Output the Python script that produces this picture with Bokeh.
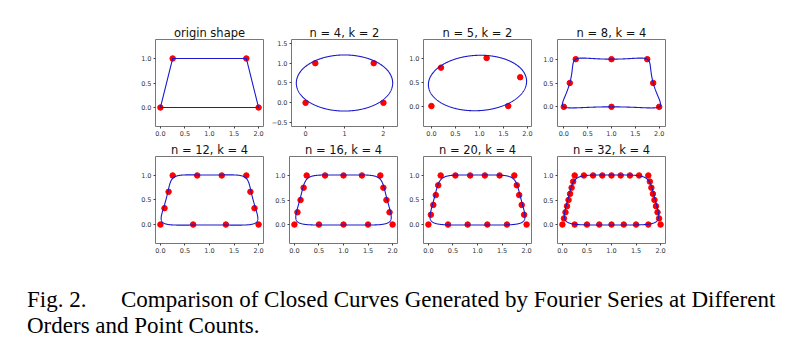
import numpy as np
from bokeh.plotting import figure
from bokeh.layouts import column, row
from bokeh.models import Div, FixedTicker, Range1d, Spacer
from bokeh.embed import file_html
from bokeh.resources import INLINE

# ---------------- data ----------------
titles = ["origin shape", "n = 4, k = 2", "n = 5, k = 2", "n = 8, k = 4",
          "n = 12, k = 4", "n = 16, k = 4", "n = 20, k = 4", "n = 32, k = 4"]
orders_k = [None, 2, 2, 4, 4, 4, 4, 4]

origin_x = [0.0, 0.25, 1.75, 2.0]
origin_y = [0.0, 1.0, 1.0, 0.0]

n4_x = [0.0, 0.25, 1.75, 2.0]
n4_y = [0.0, 1.0, 1.0, 0.0]

n5_x = [0.0, 0.2, 1.15, 1.85, 1.6]
n5_y = [0.0, 0.8, 1.0, 0.6, 0.0]

n8_x = [0.0, 0.125, 0.25, 1.0, 1.75, 1.875, 2.0, 1.0]
n8_y = [0.0, 0.5, 1.0, 1.0, 1.0, 0.5, 0.0, 0.0]

n12_x = [0.0, 0.0833, 0.1667, 0.25, 0.75, 1.25, 1.75, 1.8333, 1.9167, 2.0, 1.3333, 0.6667]
n12_y = [0.0, 0.3333, 0.6667, 1.0, 1.0, 1.0, 1.0, 0.6667, 0.3333, 0.0, 0.0, 0.0]

n16_x = [0.0, 0.0625, 0.125, 0.1875, 0.25, 0.625, 1.0, 1.375,
         1.75, 1.8125, 1.875, 1.9375, 2.0, 1.5, 1.0, 0.5]
n16_y = [0.0, 0.25, 0.5, 0.75, 1.0, 1.0, 1.0, 1.0,
         1.0, 0.75, 0.5, 0.25, 0.0, 0.0, 0.0, 0.0]

n20_x = [0.0, 0.05, 0.1, 0.15, 0.2, 0.25, 0.55, 0.85, 1.15, 1.45,
         1.75, 1.8, 1.85, 1.9, 1.95, 2.0, 1.6, 1.2, 0.8, 0.4]
n20_y = [0.0, 0.2, 0.4, 0.6, 0.8, 1.0, 1.0, 1.0, 1.0, 1.0,
         1.0, 0.8, 0.6, 0.4, 0.2, 0.0, 0.0, 0.0, 0.0, 0.0]

n32_x = [0.0, 0.03125, 0.0625, 0.09375, 0.125, 0.15625, 0.1875, 0.21875,
         0.25, 0.4375, 0.625, 0.8125, 1.0, 1.1875, 1.375, 1.5625,
         1.75, 1.78125, 1.8125, 1.84375, 1.875, 1.90625, 1.9375, 1.96875,
         2.0, 1.75, 1.5, 1.25, 1.0, 0.75, 0.5, 0.25]
n32_y = [0.0, 0.125, 0.25, 0.375, 0.5, 0.625, 0.75, 0.875,
         1.0, 1.0, 1.0, 1.0, 1.0, 1.0, 1.0, 1.0,
         1.0, 0.875, 0.75, 0.625, 0.5, 0.375, 0.25, 0.125,
         0.0, 0.0, 0.0, 0.0, 0.0, 0.0, 0.0, 0.0]

points_x = [origin_x, n4_x, n5_x, n8_x, n12_x, n16_x, n20_x, n32_x]
points_y = [origin_y, n4_y, n5_y, n8_y, n12_y, n16_y, n20_y, n32_y]

ticks_half = [0.0, 0.5, 1.0, 1.5, 2.0]
ticks_int = [0, 1, 2]
yticks_std = [0.0, 0.5, 1.0]
yticks_wide = [-0.5, 0.0, 0.5, 1.0, 1.5]
x_ticks = [ticks_half, ticks_int, ticks_half, ticks_half, ticks_half, ticks_half, ticks_half, ticks_half]
y_ticks = [yticks_std, yticks_wide, yticks_std, yticks_std, yticks_std, yticks_std, yticks_std, yticks_std]

caption_label = "Fig. 2."
caption_line1 = "Comparison of Closed Curves Generated by Fourier Series at Different"
caption_line2 = "Orders and Point Counts."

# ---------------- helpers ----------------
FW, FH = 108, 87


def fourier_curve(xs, ys, k, m=600):
    z = np.array(xs) + 1j * np.array(ys)
    n = len(z)
    c = np.fft.fft(z) / n
    f = np.round(np.fft.fftfreq(n) * n).astype(int)
    t = np.linspace(0, 2 * np.pi, m)
    out = np.zeros(m, dtype=complex)
    for ci, fi in zip(c, f):
        if abs(fi) <= k - 1:
            out += ci * np.exp(1j * fi * t)
    return out.real, out.imag


def fit_ranges(xs, ys):
    x0, x1 = min(xs), max(xs)
    y0, y1 = min(ys), max(ys)
    dx, dy = x1 - x0, y1 - y0
    x0, x1 = x0 - 0.05 * dx, x1 + 0.05 * dx
    y0, y1 = y0 - 0.05 * dy, y1 + 0.05 * dy
    sx = FW / (x1 - x0)
    sy = FH / (y1 - y0)
    if sx < sy:
        cy = (y0 + y1) / 2
        h = FH / sx
        y0, y1 = cy - h / 2, cy + h / 2
    else:
        cx = (x0 + x1) / 2
        w = FW / sy
        x0, x1 = cx - w / 2, cx + w / 2
    return (x0, x1), (y0, y1)


def fmt(v, ints):
    if ints:
        return str(int(v))
    s = "%.1f" % v
    return s.replace("-", "\u2212")


figs = []
for i in range(8):
    px, py = points_x[i], points_y[i]
    if orders_k[i] is None:
        cx = list(px) + [px[0]]
        cy = list(py) + [py[0]]
    else:
        cx, cy = fourier_curve(px, py, orders_k[i])
        cx, cy = list(cx), list(cy)
    xr, yr = fit_ranges(list(px) + cx, list(py) + cy)
    p = figure(width=134, height=117, output_backend="svg", toolbar_location=None,
               x_range=Range1d(*xr), y_range=Range1d(*yr), title=titles[i],
               min_border_left=21, min_border_right=5, min_border_top=17,
               min_border_bottom=13, background_fill_color="white",
               border_fill_color="white")
    p.title.text_font = "DejaVu Sans"
    p.title.text_font_size = "11.5px"
    p.title.text_font_style = "normal"
    p.title.align = "center"
    p.title.standoff = 0
    p.title.text_color = "#111111"
    p.grid.visible = False
    p.outline_line_color = "#777777"
    p.outline_line_width = 1
    p.scatter(px, py, size=5.5, color="#ff0000", line_color="#ff0000")
    p.line(cx, cy, line_color="#1a1acc", line_width=1.1)
    ints = x_ticks[i] is ticks_int
    p.xaxis.ticker = FixedTicker(ticks=x_ticks[i])
    p.xaxis.major_label_overrides = {v: fmt(v, ints) for v in x_ticks[i]}
    p.yaxis.ticker = FixedTicker(ticks=y_ticks[i])
    p.yaxis.major_label_overrides = {v: fmt(v, False) for v in y_ticks[i]}
    for ax in (p.xaxis[0], p.yaxis[0]):
        ax.axis_line_color = None
        ax.minor_tick_line_color = None
        ax.major_tick_in = 0
        ax.major_tick_out = 2
        ax.major_tick_line_color = "#444444"
        ax.major_label_standoff = 2
        ax.major_label_text_font = "DejaVu Sans"
        ax.major_label_text_font_size = "6.5px"
        ax.major_label_text_color = "#333333"
    figs.append(p)

caption = Div(
    text=('<div style="font-family:\'Liberation Serif\',serif;font-size:23px;'
          'line-height:26px;color:#000;white-space:nowrap;">'
          '<span style="display:inline-block;width:94px;">' + caption_label + '</span>'
          + caption_line1 + '<br>' + caption_line2 + '</div>'),
    width=770, height=60, margin=(31, 0, 0, 27))

layout = column(
    Spacer(height=22),
    row(Spacer(width=134), *figs[:4]),
    row(Spacer(width=134), *figs[4:]),
    caption,
)

open("out.html", "w").write(file_html(layout, INLINE))
